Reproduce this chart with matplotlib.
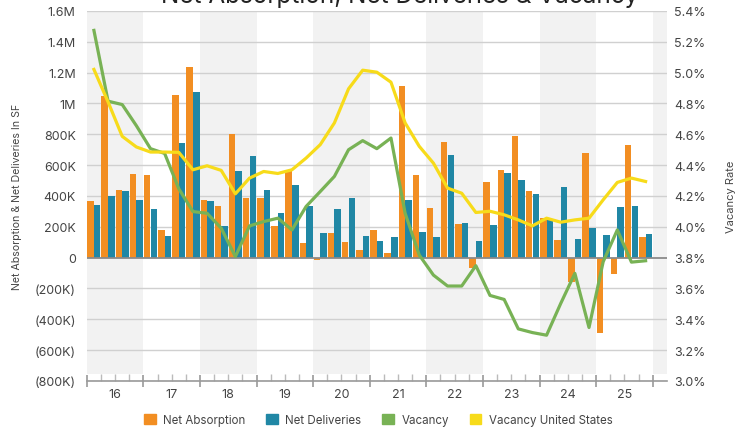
import matplotlib
matplotlib.use("Agg")
import matplotlib.pyplot as plt
import matplotlib.transforms as mtransforms
from matplotlib.patches import Patch
import numpy as np

plt.rcParams['font.family'] = ['Inter', 'DejaVu Sans']

years = ['16', '17', '18', '19', '20', '21', '22', '23', '24', '25']

# quarterly values, 2016 Q1 .. 2025 Q4 (thousands of SF)
absorption = [370, 1046, 441, 541, 536, 177, 1055, 1237, 372, 337, 804, 385,
              385, 205, 567, 95, -13, 162, 99, 48, 179, 28, 1116, 536,
              320, 748, 216, -66, 491, 571, 789, 430, 259, 112, -160, 679,
              -486, -104, 729, 134]
deliveries = [342, 398, 435, 374, 314, 138, 746, 1072, 368, 203, 564, 662,
              441, 288, 469, 333, 160, 318, 385, 143, 106, 132, 376, 164,
              134, 666, 225, 106, 214, 549, 506, 411, 244, 461, 119, 195,
              145, 326, 337, 156]
vacancy = [5.274, 4.815, 4.793, 4.656, 4.507, 4.476, 4.247, 4.099,
           4.088, 3.991, 3.807, 4.006, 4.034, 4.056, 3.980, 4.132,
           4.229, 4.327, 4.500, 4.559, 4.507, 4.576, 4.088, 3.817,
           3.687, 3.616, 3.616, 3.748, 3.555, 3.529, 3.338, 3.314,
           3.297, 3.503, 3.698, 3.347, 3.773, 3.980, 3.771, 3.780]
vacancy_us = [5.021, 4.81, 4.587, 4.518, 4.485, 4.485, 4.483, 4.370,
              4.396, 4.366, 4.214, 4.316, 4.359, 4.346, 4.370, 4.446,
              4.533, 4.674, 4.895, 5.016, 5.003, 4.938, 4.674, 4.522,
              4.413, 4.251, 4.218, 4.093, 4.101, 4.078, 4.045, 4.006,
              4.056, 4.030, 4.045, 4.056, 4.175, 4.288, 4.316, 4.294]

orange = '#F28E22'
blue = '#2087A5'
green = '#78B255'
yellow = '#F7DB1A'
txt = '#444444'

fig = plt.figure(figsize=(7.36, 4.31), dpi=100)
ax = fig.add_axes([0.118, 0.1137, 0.788, 0.8585])
ax2 = ax.twinx()

x = np.arange(len(absorption))
w = 0.46

# alternating year bands
for k in range(0, 12, 2):
    ax.axvspan(-0.5 + 4 * k, 3.5 + 4 * k, ymin=0.018, ymax=1,
               color='#F2F2F2', lw=0, zorder=0)

ax.bar(x - 0.235, np.array(absorption) * 1000, w, color=orange, zorder=3)
ax.bar(x + 0.235, np.array(deliveries) * 1000, w, color=blue, zorder=3)

ax.set_ylim(-800000, 1600000)
ax.set_xlim(-0.5, 40.5)
yt = np.arange(-800000, 1600001, 200000)
ax.set_yticks(yt)

def fmt(v):
    a = abs(v)
    s = '0' if a == 0 else ('%gM' % (a / 1e6) if a >= 1e6 else '%dK' % (a / 1000))
    return '(%s)' % s if v < 0 else s

ax.set_yticklabels([fmt(v) for v in yt])
for v in yt:
    if v == 0:
        ax.axhline(v, color='#8A8A8A', lw=1.3, zorder=4)
    else:
        ax.axhline(v, color='#D0D0D0', lw=1, zorder=1)

ax2.plot(x, vacancy, color=green, lw=2.3, zorder=5)
ax2.plot(x, vacancy_us, color=yellow, lw=2.3, zorder=5)
ax2.set_ylim(3.0, 5.4)
rt = np.arange(3.0, 5.41, 0.2)
ax2.set_yticks(rt)
ax2.set_yticklabels(['%.1f%%' % v for v in rt])

ax.set_zorder(1)
ax2.set_zorder(2)
ax.patch.set_visible(False)
ax2.patch.set_visible(False)

for a in (ax, ax2):
    for s in ('top', 'left', 'right', 'bottom'):
        a.spines[s].set_visible(False)
ax.spines['bottom'].set_visible(True)
ax.spines['bottom'].set_color('#9A9A9A')
ax.spines['bottom'].set_linewidth(1.2)

ax.tick_params(axis='y', length=0, pad=8, labelsize=9, labelcolor=txt)
ax2.tick_params(axis='y', length=0, pad=5, labelsize=9, labelcolor=txt)

ax.set_xticks(np.arange(-0.5, 40, 4))
ax.set_xticks(np.arange(-0.5, 40, 1), minor=True)
ax.set_xticklabels([])
ax.tick_params(axis='x', which='major', direction='inout', length=9,
               width=1.2, color='#9A9A9A')
ax.tick_params(axis='x', which='minor', direction='in', length=5,
               width=1, color='#BBBBBB')

trans = mtransforms.blended_transform_factory(ax.transData, ax.transAxes)
for i, yr in enumerate(years):
    ax.text(1.5 + 4 * i, -0.02, yr, transform=trans, ha='center', va='top',
            fontsize=9, color=txt)

ax.set_ylabel('Net Absorption & Net Deliveries In SF', fontsize=7.6, color=txt)
ax.yaxis.set_label_coords(-0.112, 0.5)
fig.text(0.986, 0.543, 'Vacancy Rate', rotation=90, ha='left', va='center',
         fontsize=8, color=txt)

fig.text(0.543, 0.993, 'Net Absorption, Net Deliveries & Vacancy',
         ha='center', va='baseline', fontsize=17.5, color='#222222')

handles = [Patch(color=orange, label='Net Absorption'),
           Patch(color=blue, label='Net Deliveries'),
           Patch(color=green, label='Vacancy'),
           Patch(color=yellow, label='Vacancy United States')]
leg = fig.legend(handles=handles, loc='center', ncol=4,
                 bbox_to_anchor=(0.514, 0.023), frameon=False, fontsize=8.3,
                 handlelength=1.0, handleheight=1.0, handletextpad=0.65,
                 columnspacing=1.8)
for t in leg.get_texts():
    t.set_color(txt)

fig.savefig('out.png', dpi=100)
